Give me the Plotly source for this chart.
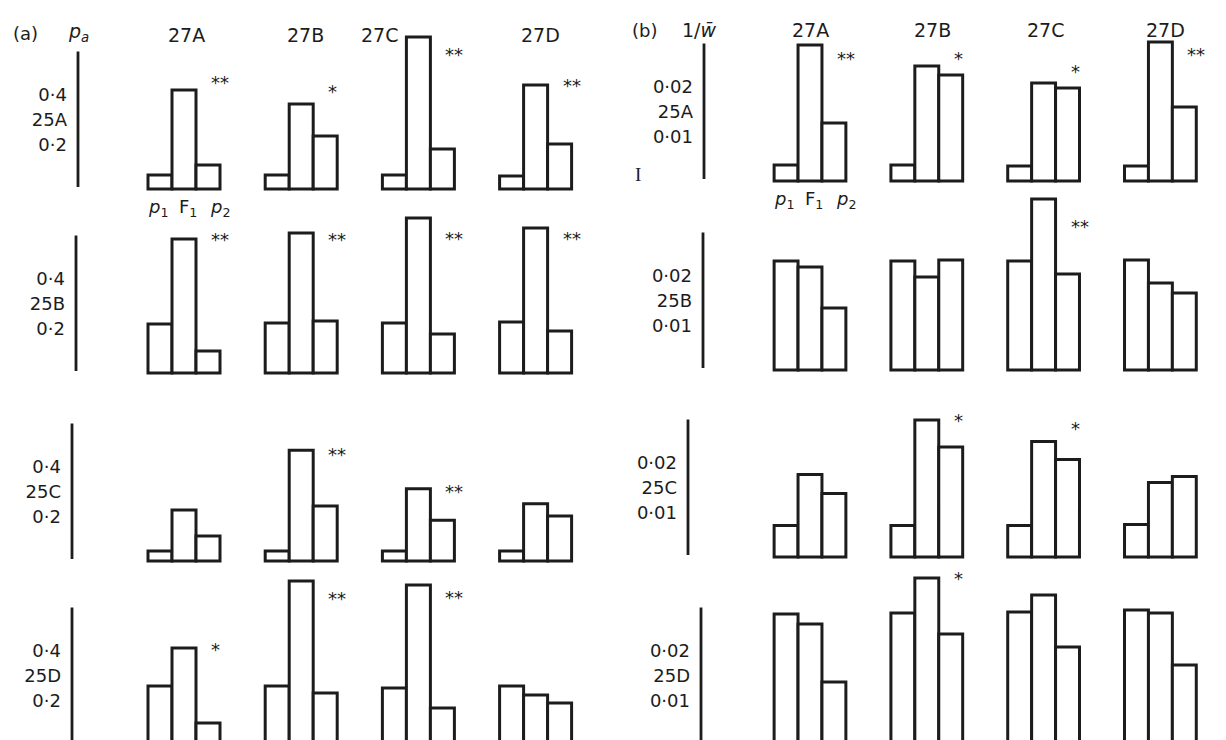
import plotly.graph_objects as go

# ---------------- data ----------------
cols = ["27A", "27B", "27C", "27D"]
rows = ["25A", "25B", "25C", "25D"]

# panel (a): p_a  (rows = 25A..25D, cols = 27A..27D)
pa_p1 = [[0.056, 0.056, 0.056, 0.052],
         [0.196, 0.200, 0.200, 0.204],
         [0.040, 0.040, 0.040, 0.040],
         [0.236, 0.236, 0.228, 0.236]]
pa_F1 = [[0.396, 0.340, 0.608, 0.416],
         [0.536, 0.560, 0.620, 0.580],
         [0.204, 0.443, 0.289, 0.229],
         [0.388, 0.656, 0.640, 0.200]]
pa_p2 = [[0.096, 0.212, 0.160, 0.180],
         [0.088, 0.208, 0.156, 0.168],
         [0.100, 0.220, 0.163, 0.180],
         [0.088, 0.208, 0.148, 0.168]]
pa_stars = [["**", "*", "**", "**"],
            ["**", "**", "**", "**"],
            ["", "**", "**", ""],
            ["*", "**", "**", ""]]
pa_star_y = [[0.42, 0.384, 0.532, 0.408],
             [0.528, 0.528, 0.532, 0.532],
             [None, 0.42, 0.272, None],
             [0.376, 0.58, 0.584, None]]

# panel (b): 1/w
wb_p1 = [[0.0032, 0.0032, 0.0030, 0.0030],
         [0.0218, 0.0218, 0.0218, 0.0220],
         [0.0063, 0.0063, 0.0063, 0.0065],
         [0.0262, 0.0264, 0.0266, 0.0270]]
wb_F1 = [[0.0272, 0.0230, 0.0196, 0.0278],
         [0.0206, 0.0186, 0.0342, 0.0174],
         [0.0165, 0.0274, 0.0231, 0.0149],
         [0.0242, 0.0334, 0.0300, 0.0264]]
wb_p2 = [[0.0116, 0.0212, 0.0186, 0.0148],
         [0.0124, 0.0220, 0.0192, 0.0154],
         [0.0127, 0.0220, 0.0195, 0.0161],
         [0.0126, 0.0222, 0.0196, 0.0160]]
wb_stars = [["**", "*", "*", "**"],
            ["", "", "**", ""],
            ["", "*", "*", ""],
            ["", "*", "", ""]]
wb_star_y = [[0.0242, 0.0242, 0.0216, 0.0250],
             [None, None, 0.0282, None],
             [None, 0.0268, 0.0252, None],
             [None, 0.0330, None, None]]

pa_ticks = [0.2, 0.3, 0.4]
pa_ticktext = ["0·2", "{}", "0·4"]
wb_ticks = [0.01, 0.015, 0.02]
wb_ticktext = ["0·01", "{}", "0·02"]

# ---------------- layout helpers ----------------
W, H = 1226, 740
INK = "#1c1c1c"
FONT = "DejaVu Sans, Verdana, sans-serif"


def fx(px):
    return px / W


def fy(py):
    return 1 - py / H


panels = [
    dict(name="a", p1=pa_p1, F1=pa_F1, p2=pa_p2, stars=pa_stars, star_y=pa_star_y,
         ticks=pa_ticks, ticktext=pa_ticktext,
         scale=250.0, c0=176.0, step=117.2, axis_px=[70, 68, 64, 64],
         base=[181, 365, 553, 737], line=(0.008, 0.55),
         head_y=27, head_shift=[2, 4, -39, 5]),
    dict(name="b", p1=wb_p1, F1=wb_F1, p2=wb_p2, stars=wb_stars, star_y=wb_star_y,
         ticks=wb_ticks, ticktext=wb_ticktext,
         scale=5000.0, c0=802.0, step=116.8, axis_px=[696, 695, 680, 693],
         base=[173, 362, 549, 737], line=(0.0004, 0.0275),
         head_y=22, head_shift=[0, 6, 2, 5]),
]

DOM_H = 178
PAD = 3

fig = go.Figure()
layout = dict(width=W, height=H, margin=dict(l=0, r=0, t=0, b=0),
              paper_bgcolor="white", plot_bgcolor="white",
              showlegend=False, barmode="group",
              bargap=1 - 72 / 117.2, bargroupgap=0,
              font=dict(family=FONT, color=INK))
shapes = []
annotations = []

idx = 0
for p in panels:
    s = p["scale"]
    x_right_px = p["c0"] + 3.5 * p["step"]
    for r in range(4):
        idx += 1
        xa = "x" if idx == 1 else f"x{idx}"
        ya = "y" if idx == 1 else f"y{idx}"
        ax_px = p["axis_px"][r]
        x_left = (ax_px - p["c0"]) / p["step"]
        b = p["base"][r]
        bot_px = min(H, b + PAD)
        top_px = max(0, b + PAD - DOM_H)
        layout["xaxis" if idx == 1 else f"xaxis{idx}"] = dict(
            domain=[fx(ax_px), fx(x_right_px)], anchor=ya,
            type="category", categoryorder="array", categoryarray=cols,
            range=[x_left, 3.5], showticklabels=False, showgrid=False,
            zeroline=False, showline=False, ticks="", fixedrange=True)
        layout["yaxis" if idx == 1 else f"yaxis{idx}"] = dict(
            domain=[fy(bot_px), fy(top_px)], anchor=xa,
            range=[-(bot_px - b) / s, (b - top_px) / s],
            tickvals=p["ticks"],
            ticktext=[t.format(rows[r]) for t in p["ticktext"]],
            ticks="", ticklabelstandoff=10, ticklabelshift=6,
            tickfont=dict(family=FONT, size=18, color=INK),
            showgrid=False, zeroline=False, showline=False, fixedrange=True)
        for key in ("p1", "F1", "p2"):
            fig.add_trace(go.Bar(
                x=cols, y=p[key][r], name=key, xaxis=xa, yaxis=ya,
                marker=dict(color="white", line=dict(color=INK, width=3)),
                hoverinfo="x+y"))
        # vertical axis line
        shapes.append(dict(type="line", xref=f"{xa} domain", yref=ya,
                           x0=0, x1=0, y0=p["line"][0], y1=p["line"][1],
                           line=dict(color=INK, width=2.8)))
        # significance stars
        for c in range(4):
            t = p["stars"][r][c]
            if t:
                annotations.append(dict(
                    x=cols[c], y=p["star_y"][r][c], xref=xa, yref=ya,
                    text=t, showarrow=False, xanchor="left", yanchor="middle",
                    xshift=25, yshift=2,
                    font=dict(family=FONT, size=18, color=INK)))
        if r == 0:
            # p1 F1 p2 labels under the first group
            for lab, sh in (("<i>p</i><sub>1</sub>", -26),
                            ("F<sub>1</sub>", 4),
                            ("<i>p</i><sub>2</sub>", 36)):
                annotations.append(dict(
                    x=cols[0], y=0, xref=xa, yref=ya, text=lab,
                    showarrow=False, xanchor="center", yanchor="middle",
                    xshift=sh, yshift=-19,
                    font=dict(family=FONT, size=18, color=INK)))
            # column headers
            for c in range(4):
                annotations.append(dict(
                    x=cols[c], y=fy(p["head_y"]), xref=xa, yref="paper",
                    text=cols[c], showarrow=False, xanchor="center",
                    yanchor="middle", xshift=p["head_shift"][c],
                    font=dict(family=FONT, size=19, color=INK)))

# panel titles
annotations += [
    dict(x=fx(3), y=fy(26), xref="paper", yref="paper", text="(a)",
         showarrow=False, xanchor="left", yanchor="middle",
         font=dict(family=FONT, size=18, color=INK)),
    dict(x=fx(58), y=fy(25), xref="paper", yref="paper",
         text="<i>p</i><sub><i>a</i></sub>", showarrow=False,
         xanchor="left", yanchor="middle",
         font=dict(family=FONT, size=19, color=INK)),
    dict(x=fx(622), y=fy(22), xref="paper", yref="paper", text="(b)",
         showarrow=False, xanchor="left", yanchor="middle",
         font=dict(family=FONT, size=18, color=INK)),
    dict(x=fx(672), y=fy(22), xref="paper", yref="paper",
         text="1/<i>w\u0304</i>", showarrow=False,
         xanchor="left", yanchor="middle",
         font=dict(family=FONT, size=19, color=INK)),
    # error-scale markers
    dict(x=fx(630), y=fy(166), xref="paper", yref="paper", text="I",
         showarrow=False, xanchor="center", yanchor="middle",
         font=dict(family="Liberation Serif, serif", size=19, color=INK)),
    dict(x=fx(1217), y=fy(169), xref="paper", yref="paper", text="I",
         showarrow=False, xanchor="center", yanchor="middle",
         font=dict(family="Liberation Serif, serif", size=19, color=INK)),
]

layout["shapes"] = shapes
layout["annotations"] = annotations
fig.update_layout(**layout)
fig.write_html("out.html")
